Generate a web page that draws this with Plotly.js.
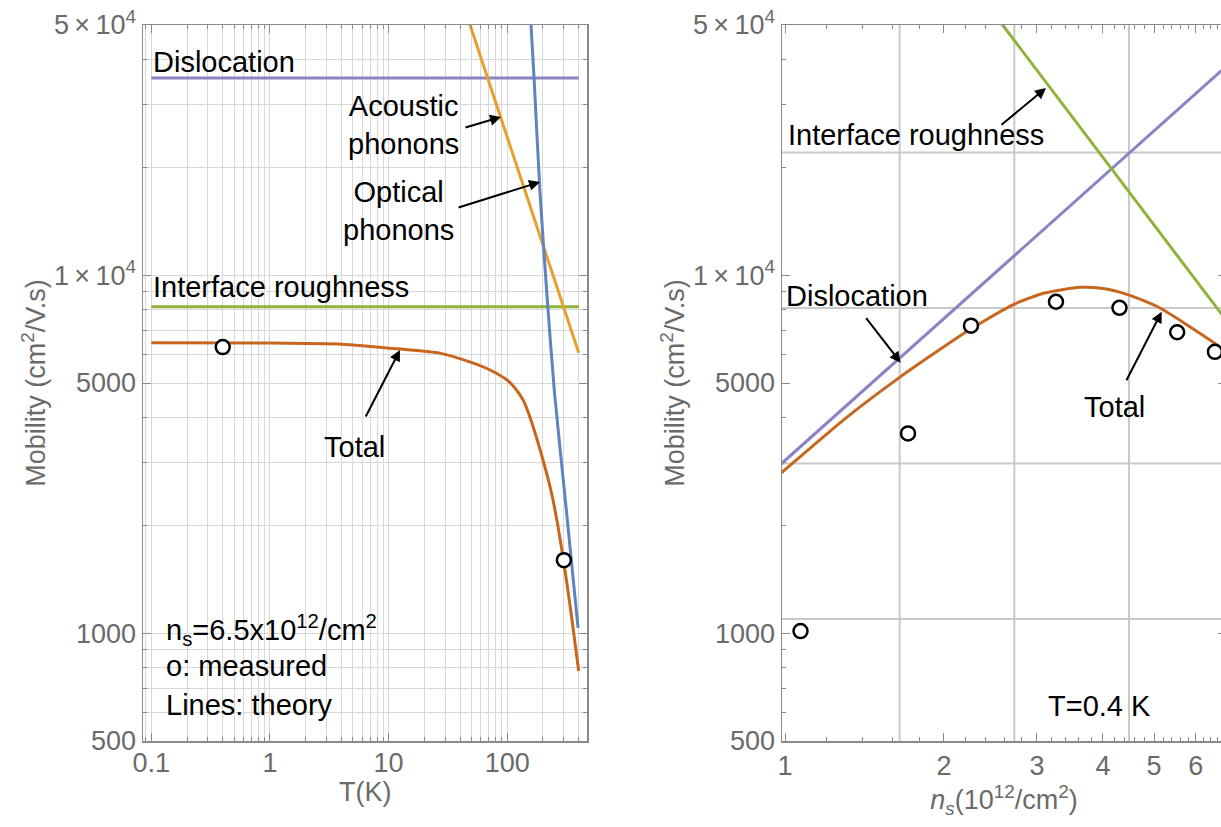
<!DOCTYPE html>
<html>
<head>
<meta charset="utf-8">
<script src="https://cdn.plot.ly/plotly-3.0.1.min.js"></script>
<style>
  html, body { margin: 0; padding: 0; overflow: hidden; background: #fff; }
  #chart { width: 1240px; height: 827px; }
</style>
</head>
<body>
<div id="chart"></div>
<script>
// ---------- Left panel: mobility vs temperature (ns = 6.5e12 /cm^2) ----------
const T_flat = [0.1, 400];
const muDisloc_T = [35540, 35540];
const muIR_T = [8170, 8170];
const T_acoustic = [40, 400];
const muAcoustic = [60750, 6075];
const T_optical = [150, 158.5, 168.6, 188.8, 216, 250, 313, 395];
const muOptical = [68000, 50000, 35000, 17000, 8800, 4700, 2250, 1035];
const T_total = [0.1, 1, 4, 12.5, 27, 51, 71.5, 99.5, 116, 136, 150, 165, 182, 200, 221, 243, 268, 295, 345, 400];
const muTotal_T = [6480, 6470, 6420, 6220, 6060, 5690, 5436, 5098, 4843, 4484, 4150, 3777, 3400, 3047, 2697, 2356, 1981, 1633, 1139, 784];
const T_measured = [0.4, 300];
const muMeasured_T = [6300, 1600];

// ---------- Right panel: mobility vs density (T = 0.4 K) ----------
const n_disloc = [0.95, 8];
const muDisloc_n = [2840, 47000];
const n_IR = [2.5, 8];
const muIR_n = [53300, 5530];
const n_total = [0.98, 1.309, 1.656, 1.98, 2.24, 2.727, 3.1, 3.62, 4.0, 4.487, 5.13, 6.47, 7];
const muTotal_n = [2790, 4010, 5210, 6250, 7050, 8320, 8920, 9250, 9180, 8800, 8100, 6500, 5950];
const n_measured = [1.07, 1.71, 2.25, 3.26, 4.30, 5.53, 6.52];
const muMeasured_n = [1014, 3615, 7230, 8430, 8110, 6930, 6110];

// ---------- Tick labels ----------
const yTickVals = [500, 1000, 5000, 10000, 50000];
const yTickText = ['500', '1000', '5000', '1\u2009×\u200910<sup>4</sup>', '5\u2009×\u200910<sup>4</sup>'];
const yMinorVals = [600, 700, 800, 900, 2000, 3000, 4000, 6000, 7000, 8000, 9000, 20000, 30000, 40000];
const xLeftTickVals = [0.1, 1, 10, 100];
const xLeftTickText = ['0.1', '1', '10', '100'];
const xLeftMinorVals = [0.09, 0.2, 0.3, 0.4, 0.5, 0.6, 0.7, 0.8, 0.9, 2, 3, 4, 5, 6, 7, 8, 9,
                        20, 30, 40, 50, 60, 70, 80, 90, 200, 300, 400];
const xRightTickVals = [1, 2, 3, 4, 5, 6];
const xRightTickText = ['1', '2', '3', '4', '5', '6'];
const xRightMinorVals = [1.2, 1.4, 1.6, 1.8, 2.2, 2.4, 2.6, 2.8, 3.2, 3.4, 3.6, 3.8,
                         4.2, 4.4, 4.6, 4.8, 5.2, 5.4, 5.6, 5.8, 6.2, 6.4, 6.6, 6.8];
// Mathematica-style grid lines of the right panel (natural-log spacing)
const xRightGridExp = [0.5, 1, 1.5];
const yRightGridExp = [7, 8, 9, 10];

const C = {
  disloc: '#8c82c4', ir: '#8fb23a', acoustic: '#e6a02c',
  optical: '#5e83bd', total: '#c8661e', frame: '#8a8a8a', tick: '#6a6a6a',
  grid: '#d8d8d8', grid2: '#c9c9c9'
};
const FONT = 'Liberation Sans, Arial, Helvetica, sans-serif';
const LW = 3;
const TXT = 29, TICK = 27, TITLE = 27;

function line(x, y, color, xa, ya, shape) {
  return { x, y, type: 'scatter', mode: 'lines', xaxis: xa, yaxis: ya,
           line: { color, width: LW, shape: shape || 'linear', smoothing: 0.6 },
           hoverinfo: 'skip' };
}
function pts(x, y, xa, ya) {
  return { x, y, type: 'scatter', mode: 'markers', xaxis: xa, yaxis: ya,
           marker: { symbol: 'circle', size: 14, color: '#fff', line: { color: '#000', width: 2.5 } },
           cliponaxis: false };
}

const traces = [
  line(T_flat, muDisloc_T, C.disloc, 'x', 'y'),
  line(T_flat, muIR_T, C.ir, 'x', 'y'),
  line(T_acoustic, muAcoustic, C.acoustic, 'x', 'y'),
  line(T_optical, muOptical, C.optical, 'x', 'y', 'spline'),
  line(T_total, muTotal_T, C.total, 'x', 'y', 'spline'),
  pts(T_measured, muMeasured_T, 'x', 'y'),
  line(n_disloc, muDisloc_n, C.disloc, 'x2', 'y2'),
  line(n_IR, muIR_n, C.ir, 'x2', 'y2'),
  line(n_total, muTotal_n, C.total, 'x2', 'y2', 'spline'),
  pts(n_measured, muMeasured_n, 'x2', 'y2')
];

// geometry helpers (pixels -> paper)
const W = 1240, H = 827, ML = 143, MT = 25, MB = 86, MR = 14;
const PW = W - ML - MR, PH = H - MT - MB;
function px(x) { return (x - ML) / PW; }
function py(y) { return (H - MB - y) / PH; }

const axBase = {
  type: 'log', showline: true, linecolor: C.frame, linewidth: 1.5, mirror: 'ticks',
  ticks: 'inside', ticklen: 8, tickwidth: 1, tickcolor: C.frame,
  tickfont: { family: FONT, size: TICK, color: C.tick }, zeroline: false,
  tickmode: 'array', fixedrange: true
};

function txt(text, x, y, xanchor, font) {
  return { text, x: px(x), y: py(y), xref: 'paper', yref: 'paper', showarrow: false,
           xanchor: xanchor || 'left', yanchor: 'middle', align: 'center',
           font: font || { family: FONT, size: TXT, color: '#000' } };
}
function arrow(hx, hy, tx, ty) {
  return { text: '', x: px(hx), y: py(hy), xref: 'paper', yref: 'paper', showarrow: true,
           ax: tx - hx, ay: ty - hy, arrowhead: 2, arrowsize: 1.1, arrowwidth: 2,
           arrowcolor: '#000', standoff: 0, startstandoff: 0 };
}

const annotations = [
  // left panel
  txt('Dislocation', 151, 62),
  txt('Acoustic<br>phonons', 403, 125, 'center'),
  txt('Optical<br>phonons', 398, 211, 'center'),
  txt('Interface roughness', 151, 287),
  txt('Total', 354, 447, 'center'),
  txt('n<sub>s</sub>=6.5x10<sup>12</sup>/cm<sup>2</sup>', 164, 630),
  txt('o: measured', 164, 666),
  txt('Lines: theory', 164, 705),
  arrow(501, 117, 464, 128),
  arrow(540, 182, 457, 208),
  arrow(400, 350, 365, 418),
  // left x-axis title
  txt('T(K)', 365, 792, 'center', { family: FONT, size: TITLE, color: C.tick }),
  // right panel
  txt('Interface roughness', 786, 135),
  txt('Dislocation', 784, 296),
  txt('Total', 1114, 407, 'center'),
  txt('T=0.4 K', 1153, 706, 'right'),
  arrow(1046, 88, 1000, 126),
  arrow(900.7, 362.7, 865, 316.7),
  arrow(1161.7, 311.7, 1125.7, 381.7)
];

const shapes = [];
xRightGridExp.forEach(k => shapes.push({ type: 'line', xref: 'x2', yref: 'y2 domain',
  x0: Math.exp(k), x1: Math.exp(k), y0: 0, y1: 1, layer: 'below',
  line: { color: C.grid2, width: 2 } }));
yRightGridExp.forEach(k => shapes.push({ type: 'line', xref: 'x2 domain', yref: 'y2',
  x0: 0, x1: 1, y0: Math.exp(k), y1: Math.exp(k), layer: 'below',
  line: { color: C.grid2, width: 2 } }));

const yTitle = { text: 'Mobility (cm<sup>2</sup>/V.s)', font: { family: FONT, size: TITLE, color: C.tick }, standoff: 0 };

const layout = {
  width: W, height: H,
  margin: { l: ML, r: MR, t: MT, b: MB, pad: 0 },
  paper_bgcolor: '#fff', plot_bgcolor: '#fff', showlegend: false,
  font: { family: FONT, color: '#000' },
  xaxis: Object.assign({}, axBase, {
    domain: [0, 444 / PW], range: [-1.07, 2.672], anchor: 'y',
    tickvals: xLeftTickVals, ticktext: xLeftTickText, ticklabelstandoff: -3,
    showgrid: true, gridcolor: C.grid, gridwidth: 1,
    minor: { tickmode: 'array', tickvals: xLeftMinorVals, ticks: 'inside', ticklen: 4,
             tickcolor: C.frame, showgrid: true, gridcolor: C.grid, gridwidth: 1 }
  }),
  yaxis: Object.assign({}, axBase, {
    domain: [0, 1], range: [Math.log10(500), Math.log10(50000)], anchor: 'x',
    tickvals: yTickVals, ticktext: yTickText,
    showgrid: true, gridcolor: C.grid, gridwidth: 1,
    minor: { tickmode: 'array', tickvals: yMinorVals, ticks: 'inside', ticklen: 4,
             tickcolor: C.frame, showgrid: true, gridcolor: C.grid, gridwidth: 1 },
    title: yTitle
  }),
  xaxis2: Object.assign({}, axBase, {
    domain: [(782 - ML) / PW, 1], range: [-0.0057, 0.8352], anchor: 'y2',
    tickvals: xRightTickVals, ticktext: xRightTickText, showgrid: false,
    minor: { tickmode: 'array', tickvals: xRightMinorVals, ticks: 'inside', ticklen: 4,
             tickcolor: C.frame, showgrid: false },
    title: { text: '<i>n<sub>s</sub></i>(10<sup>12</sup>/cm<sup>2</sup>)', font: { family: FONT, size: TITLE, color: C.tick }, standoff: 2 }
  }),
  yaxis2: Object.assign({}, axBase, {
    domain: [0, 1], range: [Math.log10(500), Math.log10(50000)], anchor: 'x2',
    tickvals: yTickVals, ticktext: yTickText, showgrid: false,
    minor: { tickmode: 'array', tickvals: yMinorVals, ticks: 'inside', ticklen: 4,
             tickcolor: C.frame, showgrid: false },
    title: yTitle
  }),
  annotations, shapes
};

Plotly.newPlot('chart', traces, layout, { displayModeBar: false, staticPlot: true });
</script>
</body>
</html>
